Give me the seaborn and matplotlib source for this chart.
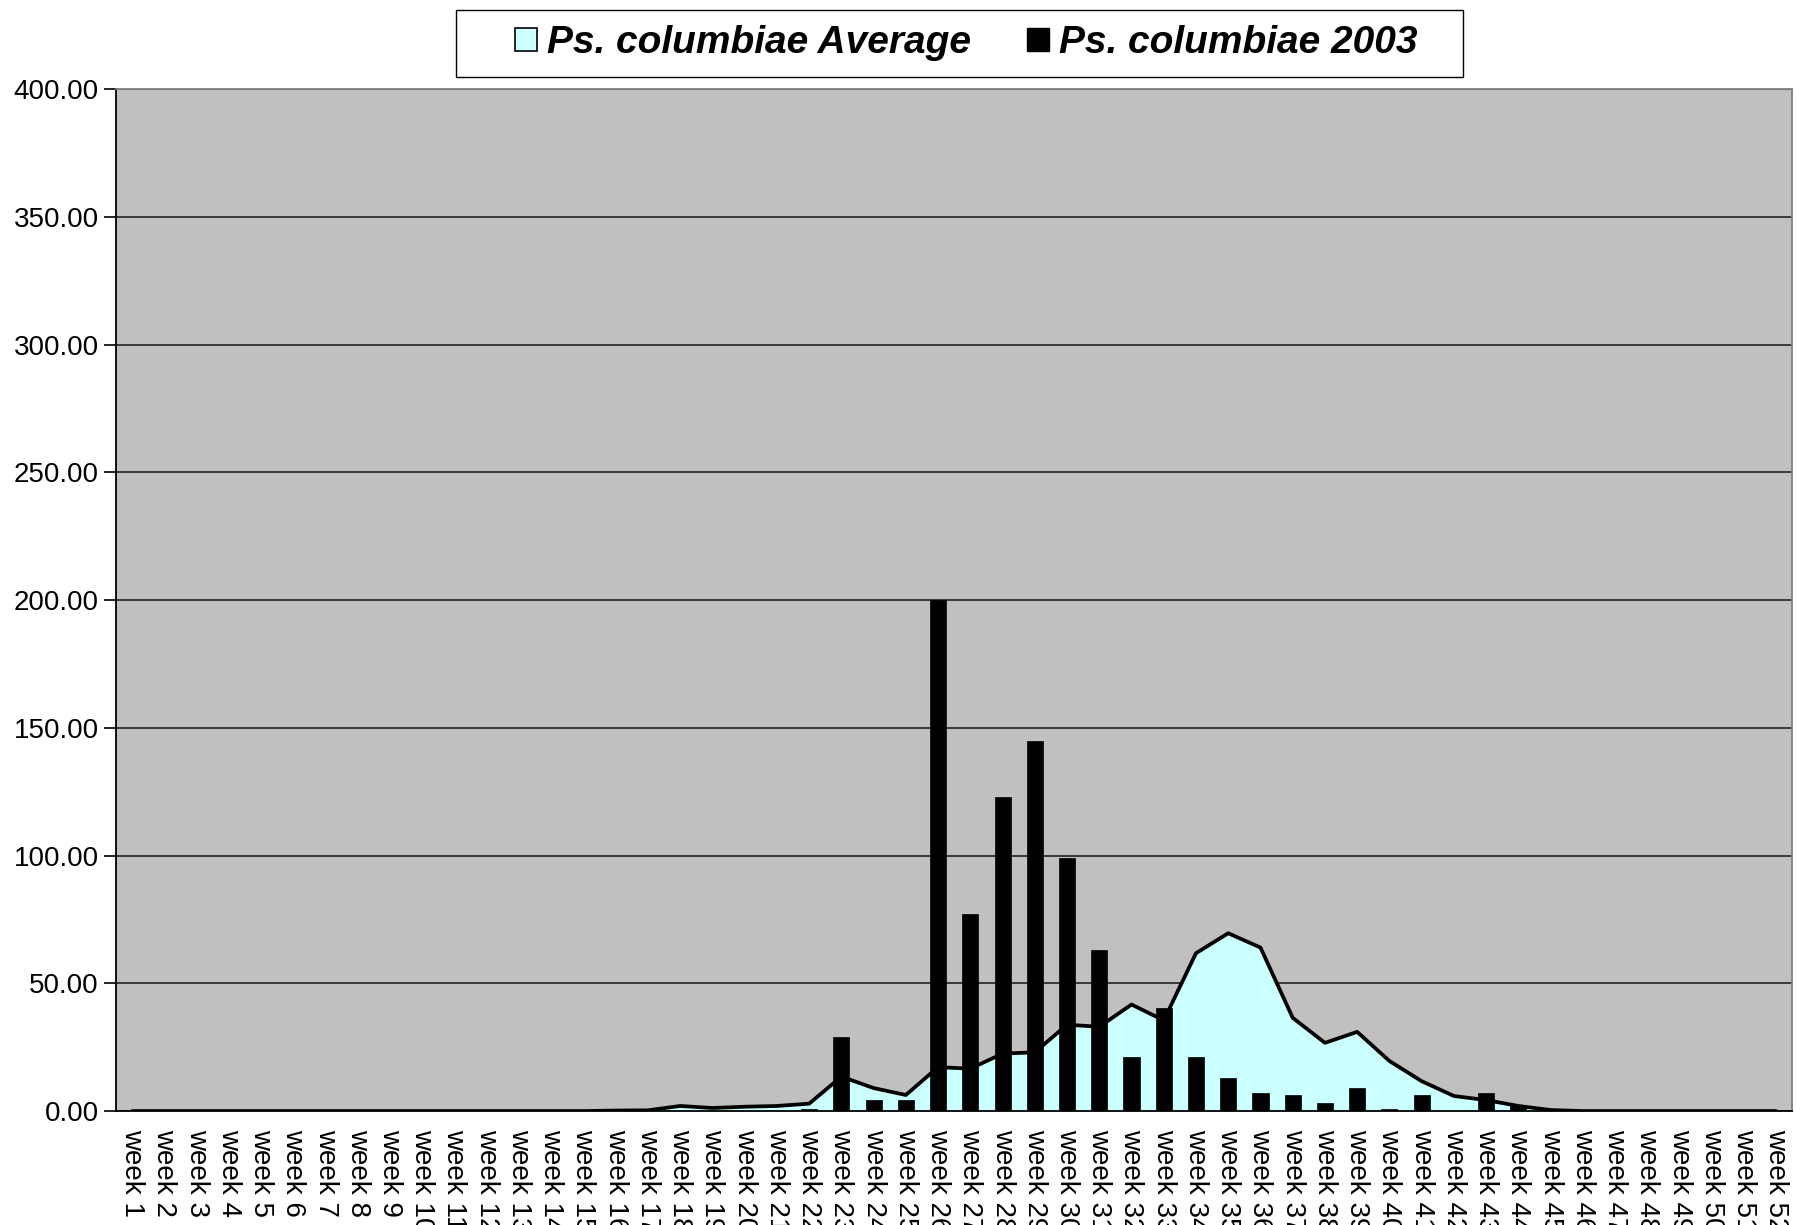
import numpy as np
import pandas as pd
import seaborn as sns
import matplotlib.pyplot as plt
from matplotlib.patches import Patch, Rectangle
from matplotlib.ticker import FormatStrFormatter, MultipleLocator

weeks = ["week {}".format(i) for i in range(1, 53)]

# weekly trap counts
average = [
    0, 0, 0, 0, 0, 0, 0, 0, 0, 0,
    0, 0, 0, 0, 0, 0.2, 0.3, 2.0, 1.2, 1.7,
    2.0, 2.9, 13.5, 9.0, 6.3, 17.2, 16.6, 22.5, 23.0, 33.8,
    33.0, 41.7, 35.5, 61.8, 69.6, 64.0, 36.5, 26.7, 31.0, 19.6,
    11.7, 5.9, 4.3, 2.0, 0.4, 0, 0, 0, 0, 0,
    0, 0,
]
year_2003 = [
    0, 0, 0, 0, 0, 0, 0, 0, 0, 0,
    0, 0, 0, 0, 0, 0, 0, 0, 0, 0,
    0, 1.0, 29.0, 4.2, 4.2, 200.0, 77.0, 123.0, 145.0, 99.0,
    63.0, 21.0, 40.4, 21.0, 13.0, 7.2, 6.2, 3.3, 9.2, 1.0,
    6.2, 0, 7.2, 2.0, 0, 0, 0, 0, 0, 0,
    0, 0,
]

df = pd.DataFrame({"week": weeks, "average": average, "y2003": year_2003})
df["pos"] = np.arange(len(df))

sns.set_style("white")
plt.rcParams["font.family"] = ["Liberation Sans", "DejaVu Sans"]
plt.rcParams["text.color"] = "black"
plt.rcParams["xtick.color"] = "black"
plt.rcParams["ytick.color"] = "black"

fig = plt.figure(figsize=(17.96, 12.25), dpi=100)
ax = fig.add_axes([0.0646, 0.093, 0.9334, 0.8343])
ax.set_facecolor("#C0C0C0")

# average as filled area
ax.fill_between(df["pos"], 0, df["average"], color="#CCFFFF", zorder=1, linewidth=0)
sns.lineplot(data=df, x="pos", y="average", color="black", linewidth=2.7, ax=ax, zorder=2)

# 2003 as bars
sns.barplot(data=df, x="week", y="y2003", color="black", saturation=1,
            width=0.5, ax=ax, zorder=3, native_scale=False,
            edgecolor="black", linewidth=0.5)

ax.set_xlim(-0.5, len(weeks) - 0.5)
ax.set_ylim(0, 400)
ax.yaxis.set_major_locator(MultipleLocator(50))
ax.yaxis.set_major_formatter(FormatStrFormatter("%.2f"))
ax.grid(axis="y", color="#222222", linewidth=1.2)
ax.set_axisbelow(True)
ax.set_xlabel("")
ax.set_ylabel("")

ax.set_xticks(df["pos"])
ax.set_xticklabels(weeks, rotation=270, ha="center", va="top")
ax.set_xticks(np.arange(-0.5, len(weeks)), minor=True)
ax.tick_params(axis="x", which="major", length=0, pad=13, labelsize=20)
ax.tick_params(axis="x", which="minor", length=14, width=1.2, direction="inout", color="black")
ax.tick_params(axis="y", which="major", length=9, width=1.2, direction="out",
               color="black", labelsize=20, left=True)

for side in ["left", "bottom"]:
    ax.spines[side].set_color("black")
    ax.spines[side].set_linewidth(1.3)
for side in ["top", "right"]:
    ax.spines[side].set_color("#808080")
    ax.spines[side].set_linewidth(1.3)

# legend box drawn separately so it can be wider than its contents
fig.patches.append(Rectangle((0.2539, 0.9371), 0.5607, 0.0547, transform=fig.transFigure,
                             facecolor="white", edgecolor="black", linewidth=1.0, zorder=0))
handles = [
    Patch(facecolor="#CCFFFF", edgecolor="black", linewidth=1.2, label="Ps. columbiae Average"),
    Patch(facecolor="black", edgecolor="black", label="Ps. columbiae 2003"),
]
fig.legend(handles=handles, loc="center", bbox_to_anchor=(0.538, 0.9645), ncol=2,
           frameon=False, prop={"size": 28, "weight": "bold", "style": "italic"},
           handlelength=0.55, handleheight=0.55, handletextpad=0.26,
           columnspacing=1.45, borderpad=0.3)

fig.savefig("out.png", dpi=100)
